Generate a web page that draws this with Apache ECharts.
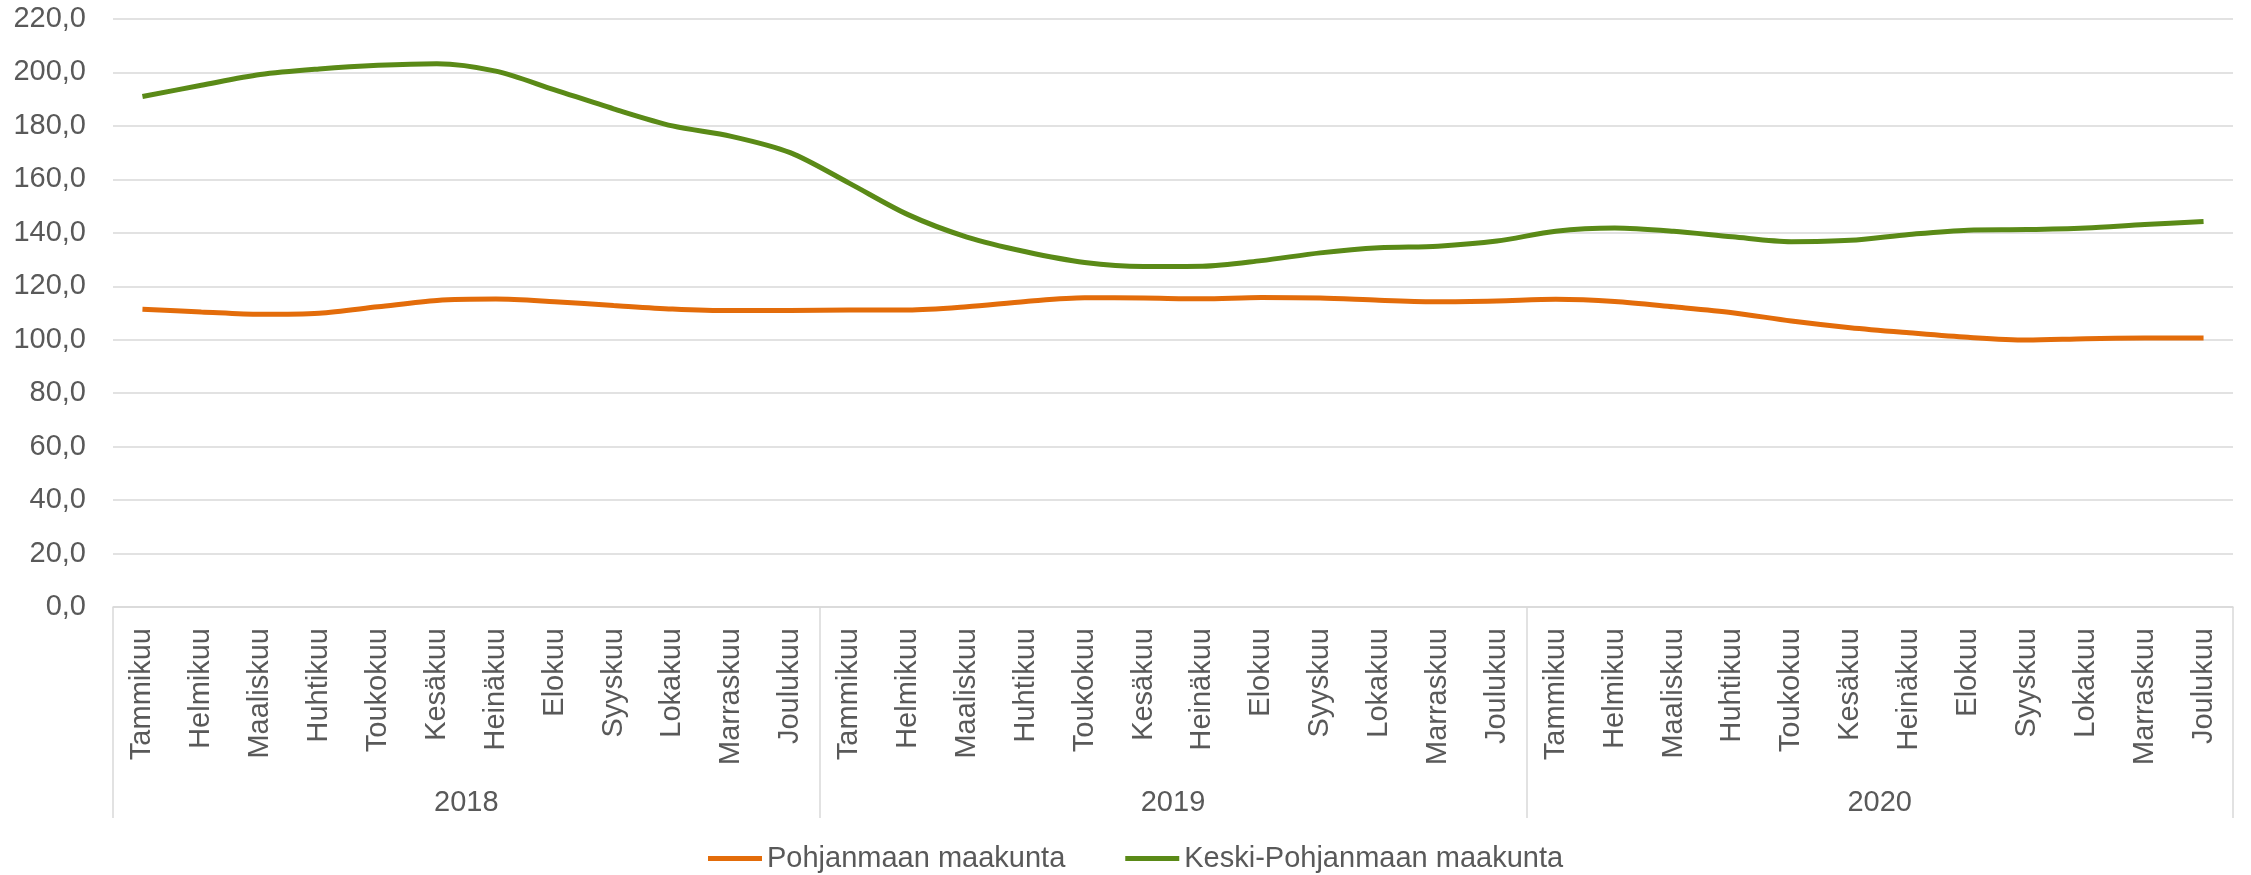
<!DOCTYPE html>
<html>
<head>
<meta charset="utf-8">
<script src="https://cdn.jsdelivr.net/npm/echarts@6/dist/echarts.min.js"></script>
<style>
  html, body { margin: 0; padding: 0; background: #fff; }
  #chart { width: 2251px; height: 875px; }
</style>
</head>
<body>
<div id="chart"></div>
<script>
var months = ['Tammikuu', 'Helmikuu', 'Maaliskuu', 'Huhtikuu', 'Toukokuu', 'Kesäkuu',
    'Heinäkuu', 'Elokuu', 'Syyskuu', 'Lokakuu', 'Marraskuu', 'Joulukuu'];
var years = ['2018', '2019', '2020'];

// kuukausittaiset arvot 2018-2020
var pohjanmaa = [
    111.4, 110.4, 109.5, 109.9, 112.3, 114.7, 115.2, 114.2, 112.8, 111.5, 110.9, 110.9,
    111.1, 111.1, 112.3, 114.3, 115.7, 115.6, 115.3, 115.8, 115.6, 114.8, 114.2, 114.5,
    115.1, 114.3, 112.3, 110.1, 107.0, 104.5, 102.6, 100.9, 99.9, 100.4, 100.6, 100.6
];
var keskiPohjanmaa = [
    191.0, 195.2, 199.2, 201.3, 202.7, 203.3, 200.5, 193.5, 186.4, 180.0, 176.1, 170.0,
    158.6, 146.8, 138.4, 132.9, 128.9, 127.4, 127.5, 129.6, 132.5, 134.4, 135.0, 136.9,
    140.6, 141.8, 140.6, 138.5, 136.7, 137.2, 139.4, 141.0, 141.2, 141.8, 143.1, 144.2
];

var categories = [];
for (var i = 0; i < years.length; i++) {
    for (var j = 0; j < months.length; j++) {
        categories.push(months[j]);
    }
}

var chart = echarts.init(document.getElementById('chart'));

var fontFam = 'Liberation Sans, Arial, sans-serif';
var textCol = '#595959';
var gridCol = '#d9d9d9';

var option = {
    backgroundColor: '#fff',
    animation: false,
    grid: {
        left: 113,
        right: 18,
        top: 19,
        bottom: 268,
        containLabel: false
    },
    legend: {
        left: 703,
        top: 839,
        itemWidth: 54,
        itemHeight: 5,
        itemGap: 60,
        icon: 'rect',
        textStyle: {
            color: textCol,
            fontFamily: fontFam,
            fontSize: 29
        },
        data: ['Pohjanmaan maakunta', 'Keski-Pohjanmaan maakunta']
    },
    xAxis: [
        {
            type: 'category',
            data: categories,
            boundaryGap: true,
            axisLine: { show: true, lineStyle: { color: gridCol, width: 1.5 } },
            axisTick: { show: false },
            axisLabel: {
                rotate: 90,
                interval: 0,
                margin: 21,
                color: textCol,
                fontFamily: fontFam,
                fontSize: 29
            }
        },
        {
            type: 'category',
            data: years,
            position: 'bottom',
            boundaryGap: true,
            axisLine: { show: false },
            axisTick: {
                show: true,
                length: 211,
                interval: 0,
                lineStyle: { color: gridCol, width: 1.5 }
            },
            axisLabel: {
                margin: 181,
                color: textCol,
                fontFamily: fontFam,
                fontSize: 29
            }
        }
    ],
    yAxis: {
        type: 'value',
        min: 0,
        max: 220,
        interval: 20,
        axisLine: { show: false },
        axisTick: { show: false },
        splitLine: { lineStyle: { color: gridCol, width: 1.5 } },
        axisLabel: {
            margin: 27,
            color: textCol,
            fontFamily: fontFam,
            fontSize: 29,
            formatter: function (v) {
                return v.toFixed(1).replace('.', ',');
            }
        }
    },
    series: [
        {
            name: 'Pohjanmaan maakunta',
            type: 'line',
            data: pohjanmaa,
            smooth: 0.3,
            showSymbol: false,
            symbol: 'none',
            itemStyle: { color: '#E36C0A' },
            lineStyle: { color: '#E36C0A', width: 5 }
        },
        {
            name: 'Keski-Pohjanmaan maakunta',
            type: 'line',
            data: keskiPohjanmaa,
            smooth: 0.3,
            showSymbol: false,
            symbol: 'none',
            itemStyle: { color: '#5A8A17' },
            lineStyle: { color: '#5A8A17', width: 5 }
        }
    ]
};

chart.setOption(option);
</script>
</body>
</html>
